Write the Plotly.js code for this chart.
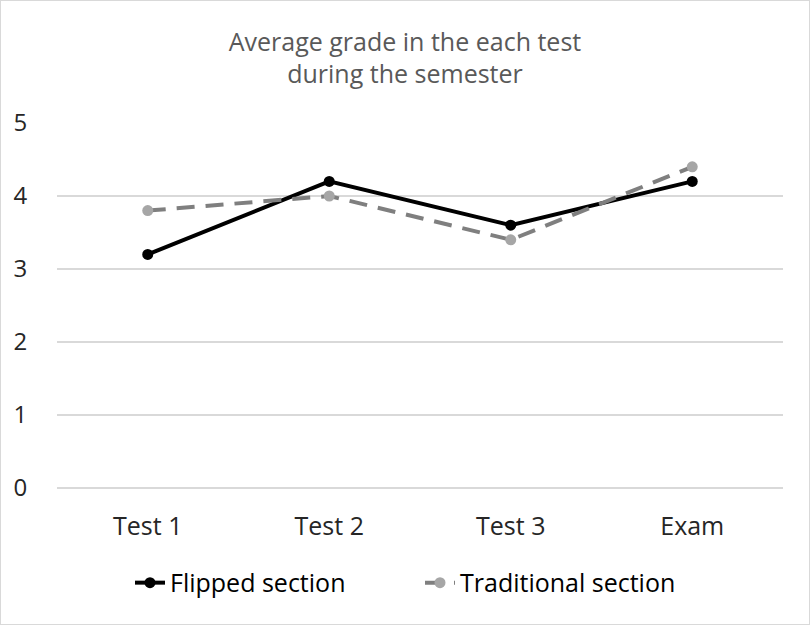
<!DOCTYPE html>
<html>
<head>
<meta charset="utf-8">
<script src="https://cdn.plot.ly/plotly-3.0.1.min.js"></script>
<style>
html,body{margin:0;padding:0;background:#fff;}
#chart{width:808px;height:623px;border:1px solid #d9d9d9;}
</style>
</head>
<body>
<div id="chart"></div>
<script>
const categories = ["Test 1", "Test 2", "Test 3", "Exam"];
const flipped = [3.2, 4.2, 3.6, 4.2];
const traditional = [3.8, 4.0, 3.4, 4.4];
const yTicks = [0, 1, 2, 3, 4, 5];

const font = "'Open Sans', Lato, sans-serif";

const data = [
  {
    x: categories, y: flipped, name: "Flipped section", type: "scatter", mode: "lines+markers",
    line: {color: "#000000", width: 4},
    marker: {color: "#000000", size: 11}
  },
  {
    x: categories, y: traditional, name: "Traditional section", type: "scatter", mode: "lines+markers",
    line: {color: "#7f7f7f", width: 4, dash: "18px,11px"},
    marker: {color: "#a6a6a6", size: 11}
  }
];

const layout = {
  width: 808, height: 623,
  margin: {l: 56, r: 26, t: 122, b: 136},
  paper_bgcolor: "#ffffff", plot_bgcolor: "#ffffff",
  font: {family: font, color: "#404040"},
  title: {
    text: "Average grade in the each test<br>during the semester",
    font: {family: font, size: 25, color: "#595959"},
    x: 0.5, xanchor: "center", yref: "container", y: 0.92, yanchor: "middle"
  },
  xaxis: {
    type: "category",
    range: [-0.5, 3.5],
    showgrid: false, zeroline: false, showline: false,
    ticks: "outside", ticklen: 16, tickcolor: "rgba(0,0,0,0)",
    tickfont: {family: font, size: 25, color: "#262626"}
  },
  yaxis: {
    range: [0, 5],
    tickvals: yTicks,
    showgrid: true, gridcolor: "#d9d9d9", gridwidth: 1.5,
    zeroline: true, zerolinecolor: "#d9d9d9", zerolinewidth: 1.5,
    showline: false,
    ticks: "outside", ticklen: 24, tickcolor: "rgba(0,0,0,0)",
    tickfont: {family: font, size: 24, color: "#262626"}
  },
  showlegend: true,
  legend: {
    orientation: "h", x: 0.5, xanchor: "center", y: -0.26, yanchor: "middle",
    font: {family: font, size: 25, color: "#000000"},
    entrywidth: 245, entrywidthmode: "pixels",
    tracegroupgap: 0
  },
  hovermode: false
};

Plotly.newPlot("chart", data, layout, {displayModeBar: false, staticPlot: true});
</script>
</body>
</html>
